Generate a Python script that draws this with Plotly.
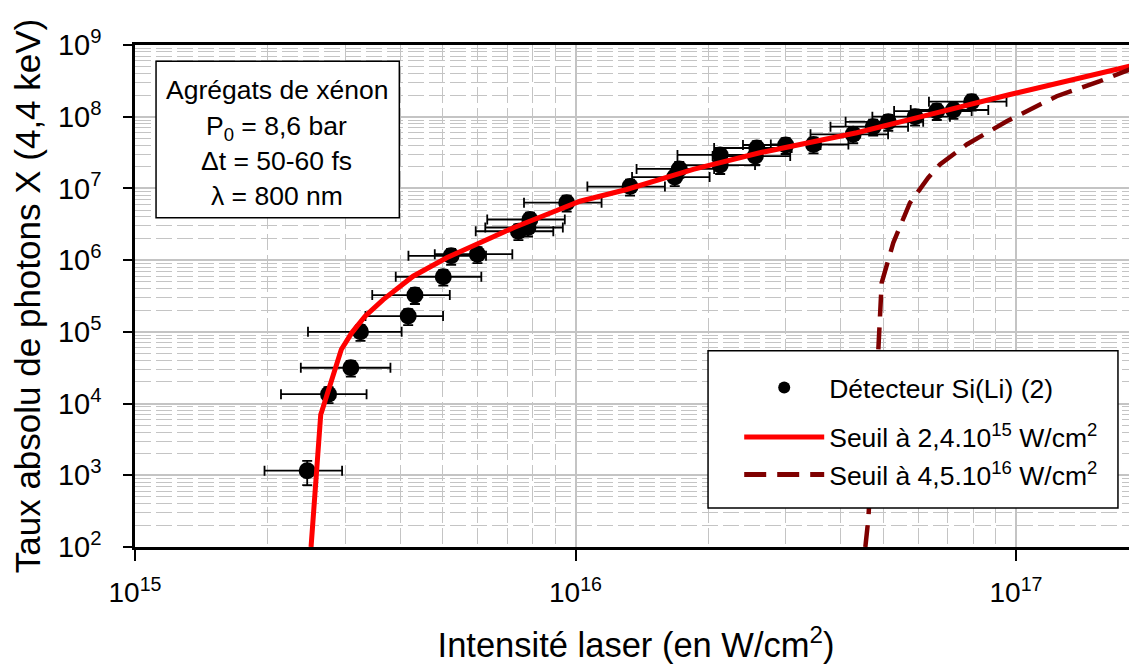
import plotly.graph_objects as go

# ---------------- data ----------------
intensity = [2.46e15, 2.75e15, 3.09e15, 3.25e15, 4.17e15, 4.32e15, 5.01e15, 5.22e15, 5.99e15,
             7.42e15, 7.80e15, 7.88e15, 9.55e15, 1.33e16, 1.68e16, 1.72e16, 2.13e16, 2.13e16,
             2.56e16, 2.58e16, 3.00e16, 3.47e16, 4.27e16, 4.74e16, 5.13e16, 5.90e16, 6.61e16,
             7.21e16, 7.93e16]
photons = [1.16e3, 1.35e4, 3.16e4, 1.00e5, 1.66e5, 3.26e5, 5.87e5, 1.15e6, 1.21e6,
           2.53e6, 2.85e6, 3.69e6, 6.32e6, 1.06e7, 1.44e7, 1.87e7, 2.12e7, 2.93e7,
           2.83e7, 3.66e7, 4.03e7, 4.10e7, 5.69e7, 7.26e7, 8.50e7, 1.00e8, 1.20e8,
           1.24e8, 1.62e8]
x_err_pct = [20, 22, 23, 24, 20, 20, 22, 20, 20,
             20, 20, 20, 20, 20, 20, 20, 20, 20,
             20, 20, 20, 20, 20, 20, 20, 20, 20,
             20, 20]
y_err_pct = [37, 25, 25, 25, 25, 25, 25, 25, 25,
             25, 25, 25, 25, 25, 25, 25, 25, 25,
             25, 25, 25, 25, 25, 25, 25, 25, 25,
             25, 25]

seuil_24_x = [2.51e15, 2.64e15, 2.94e15, 3.105e15, 3.33e15, 3.66e15, 4.28e15, 5.10e15, 6.07e15,
              7.23e15, 8.60e15, 1.024e16, 1.306e16, 1.85e16, 2.62e16, 4.35e16, 6.16e16,
              9.69e16, 1.882e17]
seuil_24_y = [1.0e2, 7.0e3, 5.67e4, 9.7e4, 1.65e5, 2.82e5, 5.97e5, 1.08e6, 1.75e6,
              2.83e6, 4.33e6, 6.63e6, 9.66e6, 1.84e7, 3.14e7, 5.97e7, 1.02e8,
              2.04e8, 5.35e8]

seuil_45_x = [4.55e16, 4.62e16, 4.87e16, 4.913e16, 4.955e16, 5.266e16, 5.744e16, 6.32e16,
              6.72e16, 7.73e16, 9.53e16, 1.237e17, 1.551e17, 1.882e17]
seuil_45_y = [1.0e2, 2.42e2, 5.67e4, 2.05e5, 4.83e5, 1.75e6, 6.3e6, 1.41e7,
              2.16e7, 4.1e7, 8.65e7, 1.93e8, 3.13e8, 5.0e8]

x_tick_vals = [1e15, 1e16, 1e17]
x_tick_text = ["10<sup>15</sup>", "10<sup>16</sup>", "10<sup>17</sup>"]
y_tick_vals = [1e2, 1e3, 1e4, 1e5, 1e6, 1e7, 1e8, 1e9]
y_tick_text = ["10<sup>%d</sup>" % e for e in range(2, 10)]

info_lines = ["Agrégats de xénon", "P<sub>0</sub> = 8,6 bar", "Δt = 50-60 fs", "λ = 800 nm"]

# ---------------- figure ----------------
FONT = "Liberation Sans, Arial, sans-serif"
GRID = "#c4c4c4"

err_x = [x * p / 100 for x, p in zip(intensity, x_err_pct)]
err_y = [y * p / 100 for y, p in zip(photons, y_err_pct)]

fig = go.Figure()
fig.add_trace(go.Scatter(
    x=intensity, y=photons, mode="markers", name="Détecteur Si(Li) (2)",
    marker=dict(color="black", size=17, line=dict(width=0)),
    error_x=dict(type="data", array=err_x, color="black", thickness=1.8, width=5),
    error_y=dict(type="data", array=err_y, color="black", thickness=1.8, width=5),
    legendgroup="a",
))
fig.add_trace(go.Scatter(
    x=seuil_24_x, y=seuil_24_y, mode="lines",
    name="Seuil à 2,4.10<sup>15</sup> W/cm<sup>2</sup>",
    line=dict(color="#ff0000", width=5), legendgroup="b",
))
fig.add_trace(go.Scatter(
    x=seuil_45_x, y=seuil_45_y, mode="lines",
    name="Seuil à 4,5.10<sup>16</sup> W/cm<sup>2</sup>",
    line=dict(color="#7f0000", width=4.5, dash="22px,11px"), legendgroup="b",
))

minor_x = [k * 10.0 ** e for e in range(15, 18) for k in range(2, 10)]
minor_y = [k * 10.0 ** e for e in range(2, 9) for k in range(2, 10)]

fig.update_xaxes(
    type="log", range=[15, 17.2747],
    tickmode="array", tickvals=x_tick_vals, ticktext=x_tick_text,
    ticks="outside", ticklen=11, tickwidth=2, tickcolor="black",
    ticklabelstandoff=8,
    showline=True, linecolor="black", linewidth=2.5, mirror=True,
    showgrid=True, gridcolor=GRID, gridwidth=1.5,
    minor=dict(tickmode="array", tickvals=minor_x, showgrid=True, gridcolor=GRID,
               gridwidth=1.2, griddash="16px,5px", ticks=""),
    tickfont=dict(family=FONT, size=28, color="black"),
    title=dict(text="Intensité laser (en W/cm<sup>2</sup>)",
               font=dict(family=FONT, size=34.5, color="black"), standoff=26),
    zeroline=False,
)
fig.update_yaxes(
    type="log", range=[2, 9],
    tickmode="array", tickvals=y_tick_vals, ticktext=y_tick_text,
    ticks="outside", ticklen=9, tickwidth=2, tickcolor="black",
    ticklabelstandoff=16,
    showline=True, linecolor="black", linewidth=2.5, mirror=False,
    showgrid=True, gridcolor=GRID, gridwidth=1.5,
    minor=dict(tickmode="array", tickvals=minor_y, showgrid=True, gridcolor=GRID,
               gridwidth=1.2, griddash="16px,5px", ticks=""),
    tickfont=dict(family=FONT, size=29, color="black"),
    title=dict(text="Taux absolu de photons X (4,4 keV)",
               font=dict(family=FONT, size=35, color="black"), standoff=8),
    zeroline=False,
)

shapes = [
    # info box
    dict(type="rect", xref="paper", yref="paper", x0=0.021, x1=0.2638, y0=0.656, y1=0.9677,
         fillcolor="white", line=dict(color="black", width=1.5), layer="above"),
    # legend box
    dict(type="rect", xref="paper", yref="paper", x0=0.5719, x1=0.981, y0=0.0778, y1=0.3908,
         fillcolor="white", line=dict(color="black", width=1.5), layer="above"),
]
info_y = [0.9113, 0.835, 0.7683, 0.6985]
annotations = [
    dict(xref="paper", yref="paper", x=0.1417, y=yy, text=t, showarrow=False,
         xanchor="center", yanchor="middle",
         font=dict(family=FONT, size=26.5, color="black"))
    for t, yy in zip(info_lines, info_y)
]

# the page body adds an 8px margin, so the figure is sized 8px smaller
fig.update_layout(
    width=1129, height=659,
    margin=dict(l=127, r=0, t=37, b=120, autoexpand=False),
    paper_bgcolor="white", plot_bgcolor="white",
    shapes=shapes, annotations=annotations,
    showlegend=True,
    legend=dict(x=0.603, y=0.365, xanchor="left", yanchor="top",
                bgcolor="rgba(0,0,0,0)", borderwidth=0,
                font=dict(family=FONT, size=26.5, color="black"),
                itemsizing="constant", itemwidth=80,
                traceorder="grouped", tracegroupgap=12),
    font=dict(family=FONT, color="black"),
)

fig.write_html("out.html")
